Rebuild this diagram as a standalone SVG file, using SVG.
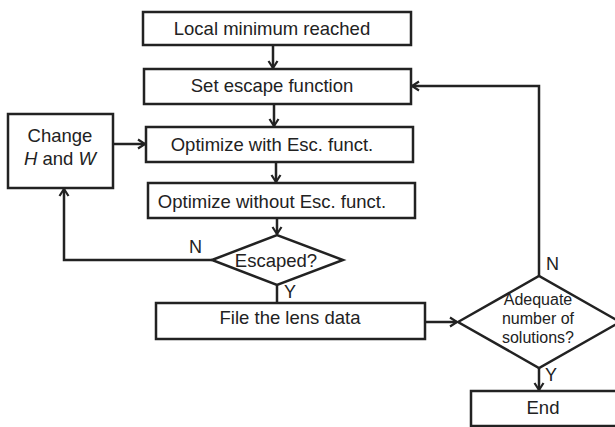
<svg xmlns="http://www.w3.org/2000/svg" width="615" height="427" viewBox="0 0 615 427">
<defs>
<style>
.box{fill:#fff;stroke:#222;stroke-width:2.5}
.ln{fill:none;stroke:#222;stroke-width:2.5}
.t{font-family:"Liberation Sans",Arial,sans-serif;font-size:18.5px;fill:#222;text-anchor:middle}
.s{font-family:"Liberation Sans",Arial,sans-serif;font-size:16px;fill:#222;text-anchor:middle}
.l{font-family:"Liberation Sans",Arial,sans-serif;font-size:18px;fill:#222}
</style>
<marker id="ar" markerWidth="12" markerHeight="12" refX="9" refY="6" orient="auto" markerUnits="userSpaceOnUse">
<path d="M2,1.5 L9,6 L2,10.5" fill="none" stroke="#222" stroke-width="2.2"/>
</marker>
</defs>
<rect width="615" height="427" fill="#fff"/>
<g id="connectors">
<line class="ln" x1="273" y1="45" x2="273" y2="68" marker-end="url(#ar)"/>
<line class="ln" x1="274" y1="104" x2="274" y2="126" marker-end="url(#ar)"/>
<line class="ln" x1="113" y1="144" x2="145" y2="144" marker-end="url(#ar)"/>
<line class="ln" x1="276" y1="162" x2="276" y2="182" marker-end="url(#ar)"/>
<line class="ln" x1="277" y1="218" x2="277" y2="234" marker-end="url(#ar)"/>
<polyline class="ln" points="212,260 64,260 64,189" marker-end="url(#ar)"/>
<line class="ln" x1="277" y1="285" x2="277" y2="303"/>
<line class="ln" x1="425" y1="322" x2="457" y2="322" marker-end="url(#ar)"/>
<polyline class="ln" points="539,276 539,86 412,86" marker-end="url(#ar)"/>
<line class="ln" x1="539" y1="368" x2="539" y2="390" marker-end="url(#ar)"/>
<text class="l" x="189" y="253">N</text>
<text class="l" x="284" y="298">Y</text>
<text class="l" x="546" y="270">N</text>
<text class="l" x="545" y="381">Y</text>
</g>
<g id="n1"><rect class="box" x="143" y="12" width="268" height="33"/><text class="t" x="272" y="35">Local minimum reached</text></g>
<g id="n2"><rect class="box" x="144" y="69" width="267" height="35"/><text class="t" x="272" y="92">Set escape function</text></g>
<g id="n3"><rect class="box" x="146" y="127" width="267" height="35"/><text class="t" x="272" y="151">Optimize with Esc. funct.</text></g>
<g id="n4"><rect class="box" x="148" y="183" width="267" height="35"/><text class="t" x="272" y="208">Optimize without Esc. funct.</text></g>
<g id="n5"><rect class="box" x="8" y="114" width="105" height="74"/><text class="t" x="60" y="142">Change</text><text class="t" x="60" y="165"><tspan font-style="italic">H</tspan> and <tspan font-style="italic">W</tspan></text></g>
<g id="n6"><polygon class="box" points="212,260 277,235 343,260 277,285"/><text class="t" x="276" y="267">Escaped?</text></g>
<g id="n7"><rect class="box" x="156" y="303" width="269" height="36"/><text class="t" x="290" y="324">File the lens data</text></g>
<g id="n8"><polygon class="box" points="458,322 539,276 620,322 539,368"/><text class="s" x="538" y="305">Adequate</text><text class="s" x="538" y="324">number of</text><text class="s" x="538" y="343">solutions?</text></g>
<g id="n9"><rect class="box" x="471" y="391" width="150" height="35"/><text class="t" x="543" y="414">End</text></g>
</svg>
